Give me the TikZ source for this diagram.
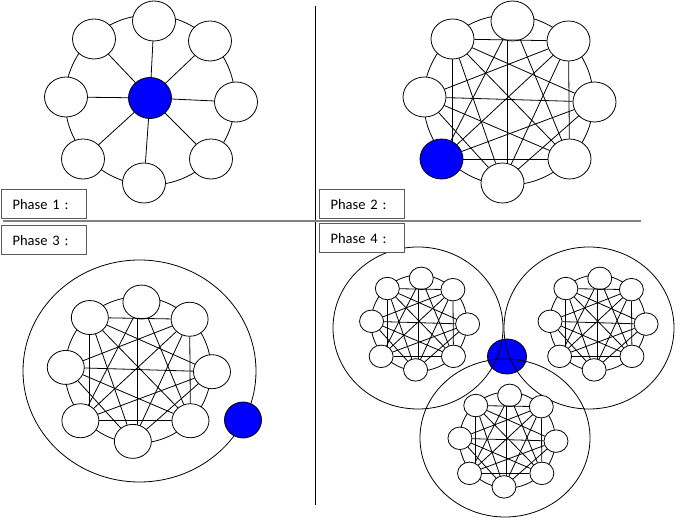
\documentclass[tikz,border=0pt]{standalone}
\usepackage{fontspec}
\setmainfont{Carlito}
\usetikzlibrary{shapes.geometric,calc,backgrounds}
\newcommand{\placering}[6]{%
  \pgfmathsetmacro\ringr{85*#4}%
  \draw[ringline] (#2,#3) circle[radius=\ringr pt];
  \foreach \n/\dx/\dy in {T/4/-79, UR/60/-59, R/86/2, LR/61/59, B/-6/83, LL/-67/59, L/-84/-3, UL/-56/-61}{%
    \pgfmathsetmacro\px{#2+#4*\dx}%
    \pgfmathsetmacro\py{#3+#4*\dy}%
    \node[wnode, minimum width=#5, minimum height=#6, node #1\n/.try] (#1\n) at (\px,\py) {};
  }%
}
\newcommand{\chords}[1]{%
  \foreach \a/\b in {UL/UR, UR/LR, LL/LR, L/R, UR/LL, UL/LR, UL/R, UL/B, T/LL, T/LR, L/UR, L/B, LL/R, B/UR, B/R, L/LR}{%
    \draw[chord] (#1\a) -- (#1\b);
  }%
  \coordinate (#1TBmid) at ($(#1T)!0.5!(#1B)$);
  \begin{pgfonlayer}{background}
    \draw[chord] (#1UL.center) -- (#1UL |- #1LL);
    \draw[chord] (#1TBmid |- #1T) -- (#1TBmid |- #1B);
  \end{pgfonlayer}%
}
\begin{document}
\begin{tikzpicture}[x=1pt,y=-1pt,
  wnode/.style={ellipse, draw, fill=white, inner sep=0pt, line width=0.8pt},
  bnode/.style={ellipse, draw, fill=blue, inner sep=0pt, line width=0.8pt},
  chord/.style={line width=0.8pt},
  ringline/.style={line width=0.8pt},
  node bLL/.style={fill=blue},
  labelbox/.style={draw=black!65, line width=1.2pt, fill=white, anchor=north west,
    minimum height=29pt, text width=63pt, inner xsep=11pt, inner ysep=0pt, align=left,
    font=\fontsize{14.5}{17}\selectfont}]
\useasboundingbox (0,0) rectangle (686,526);

% dividers
\draw[line width=1pt] (315,6) -- (315,505);
\draw[line width=2pt, black!50] (3,221) -- (641,221);

% Phase 1
\placering{a}{150}{100}{1}{43}{40}
\node[bnode, minimum width=43, minimum height=41] (a0) at (150,98) {};
\foreach \n in {T,UR,R,LR,B,LL,L,UL}{\draw[chord] (a0) -- (a\n);}

% Phase 2
\placering{b}{508.5}{100}{1}{43}{40}
\chords{b}

% Phase 3
\draw[ringline] (139.5,371) ellipse[x radius=116.5pt, y radius=111pt];
\placering{c}{138}{370}{0.86}{37}{34}
\chords{c}
\node[bnode, minimum width=37, minimum height=36] (c0) at (243,420) {};

% Phase 4
\node[bnode, minimum width=39, minimum height=35] (d0) at (507,356.5) {};
\draw[ringline] (418,328) ellipse[x radius=85pt, y radius=81pt];
\draw[ringline] (589,328) ellipse[x radius=85pt, y radius=81pt];
\draw[ringline] (505,438) ellipse[x radius=85pt, y radius=79pt];
\placering{d}{419}{323}{0.565}{24}{22.5}
\chords{d}
\placering{e}{597.5}{323}{0.565}{24}{22.5}
\chords{e}
\placering{f}{507.4}{440}{0.565}{24}{22.5}
\chords{f}

% labels
\node[labelbox] (l1) at (1,189) {Phase 1 :};
\node[labelbox] (l2) at (319,189) {Phase 2 :};
\node[labelbox] (l3) at (1,225) {Phase 3 :};
\node[labelbox] (l4) at (319,223) {Phase 4 :};
\end{tikzpicture}
\end{document}
